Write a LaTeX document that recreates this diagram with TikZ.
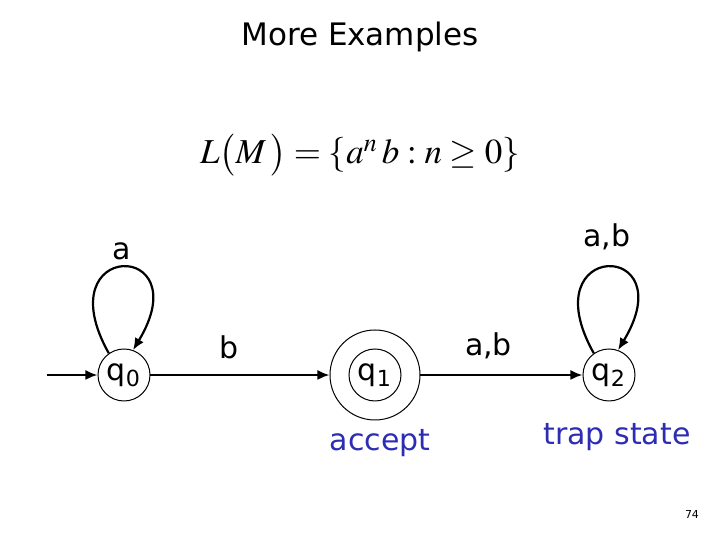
\documentclass[tikz,border=0pt]{standalone}
\usepackage{mathptmx}
\usepackage{fontspec}
\setmainfont{DejaVu Sans}
\usetikzlibrary{arrows.meta}
\definecolor{azul}{RGB}{45,45,180}

\begin{document}
\begin{tikzpicture}[x=0.5pt,y=0.5pt,line width=1.1pt,>={Latex[length=6pt,width=5pt]},
  estado/.style={circle,draw,line width=0.5pt,minimum size=26pt,inner sep=0pt,font=\fontsize{15}{15}\selectfont},
  rotulo/.style={font=\fontsize{15}{15}\selectfont},
  nota/.style={text=azul,font=\fontsize{15}{15}\selectfont}]
  \path[use as bounding box,fill=white] (0,0) rectangle (720,540);
  % titulo y lenguaje
  \node (titulo) at (360,503) {\fontsize{15.5}{18}\selectfont More Examples};
  \node (lenguaje) at (360,385) {\fontsize{17.5}{21}\selectfont $L\bigl(M\,\bigr)=\{a^n\,b:n\geq 0\}$};
  % estados
  \node[estado] (q0) at (124,165) {q\textsubscript{0}};
  \node[estado,minimum size=45pt] (q1) at (375,165) {q\textsubscript{1}};
  \draw[line width=0.5pt] (q1.center) circle (26);
  \node[estado] (q2) at (609,165) {q\textsubscript{2}};
  \coordinate (inicio) at (47,165);
  % transiciones
  \draw[->] (inicio) -- (q0);
  \draw[->] (q0) -- node[rotulo,pos=0.44,above=4pt] {b} (q1);
  \draw[->] (q1) -- node[rotulo,pos=0.42,above=4pt] {a,b} (q2);
  \draw[->] (q0.125) .. controls +(-64,114) and +(67,111) .. node[rotulo,pos=0.5,above=0pt] {a} (q0.70);
  \draw[->] (q2.125) .. controls +(-64,114) and +(67,111) .. node[rotulo,pos=0.5,above=5pt] {a,b} (q2.70);
  % notas
  \node[nota] (acepta) at (380,97) {accept};
  \node[nota] (trampa) at (617,103) {trap state};
  \node[font=\fontsize{5.5}{6}\selectfont] (pagina) at (692,25) {74};
\end{tikzpicture}
\end{document}
